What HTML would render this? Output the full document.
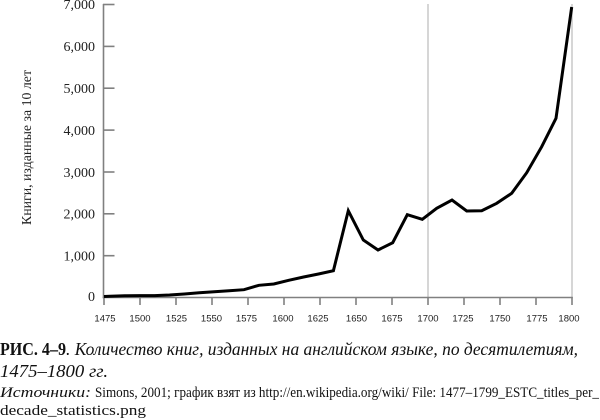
<!DOCTYPE html>
<html><head><meta charset="utf-8"><style>
html,body{margin:0;padding:0;background:#fff;}
svg{display:block;}
</style></head><body>
<svg width="600" height="420" viewBox="0 0 600 420" xmlns="http://www.w3.org/2000/svg">
<rect width="600" height="420" fill="#fff"/>
<!-- light gray verticals -->
<line x1="428" y1="4" x2="428" y2="297" stroke="#c8c8c8" stroke-width="1.5"/>
<line x1="572" y1="4" x2="572" y2="297" stroke="#c8c8c8" stroke-width="1.5"/>
<!-- axes -->
<g stroke="#808080" stroke-width="1.6" fill="none">
<line x1="103.5" y1="4" x2="103.5" y2="298.3"/>
<line x1="102.7" y1="297.5" x2="572.8" y2="297.5"/>
<!-- y ticks -->
<line x1="103" y1="4.5" x2="114.5" y2="4.5"/>
<line x1="103" y1="46.4" x2="114.5" y2="46.4"/>
<line x1="103" y1="88.2" x2="114.5" y2="88.2"/>
<line x1="103" y1="130.1" x2="114.5" y2="130.1"/>
<line x1="103" y1="172" x2="114.5" y2="172"/>
<line x1="103" y1="213.8" x2="114.5" y2="213.8"/>
<line x1="103" y1="255.7" x2="114.5" y2="255.7"/>
<!-- x ticks -->
<line x1="104" y1="297" x2="104" y2="305"/>
<line x1="140" y1="297" x2="140" y2="305"/>
<line x1="176" y1="297" x2="176" y2="305"/>
<line x1="212" y1="297" x2="212" y2="305"/>
<line x1="248" y1="297" x2="248" y2="305"/>
<line x1="284" y1="297" x2="284" y2="305"/>
<line x1="320" y1="297" x2="320" y2="305"/>
<line x1="356" y1="297" x2="356" y2="305"/>
<line x1="392" y1="297" x2="392" y2="305"/>
<line x1="428" y1="297" x2="428" y2="305"/>
<line x1="464" y1="297" x2="464" y2="305"/>
<line x1="500" y1="297" x2="500" y2="305"/>
<line x1="536" y1="297" x2="536" y2="305"/>
<line x1="572" y1="297" x2="572" y2="305"/>
</g>
<!-- y tick labels -->
<g font-family="Liberation Serif, serif" font-size="14" fill="#222" text-anchor="end">
<text x="95" y="9">7,000</text>
<text x="95" y="51">6,000</text>
<text x="95" y="93">5,000</text>
<text x="95" y="135">4,000</text>
<text x="95" y="177">3,000</text>
<text x="95" y="218.5">2,000</text>
<text x="95" y="260.5">1,000</text>
<text x="95" y="301">0</text>
</g>
<text transform="translate(31,147.5) rotate(-90)" font-family="Liberation Serif, serif" font-size="14" fill="#222" text-anchor="middle" textLength="155" lengthAdjust="spacingAndGlyphs">Книги, изданные за 10 лет</text>
<!-- x tick labels -->
<g font-family="Liberation Sans, sans-serif" font-size="9.5" fill="#222" text-anchor="middle">
<text x="105" y="321.5">1475</text>
<text x="140" y="321.5">1500</text>
<text x="176.5" y="321.5">1525</text>
<text x="211.5" y="321.5">1550</text>
<text x="246.5" y="321.5">1575</text>
<text x="283" y="321.5">1600</text>
<text x="318" y="321.5">1625</text>
<text x="356.5" y="321.5">1650</text>
<text x="392" y="321.5">1675</text>
<text x="428" y="321.5">1700</text>
<text x="463" y="321.5">1725</text>
<text x="500" y="321.5">1750</text>
<text x="537" y="321.5">1775</text>
<text x="569" y="321.5">1800</text>
</g>
<!-- data line -->
<polyline fill="none" stroke="#000" stroke-width="3" stroke-linejoin="miter" stroke-miterlimit="4"
points="104,296.5 109.9,296.2 124.8,295.8 139.7,295.6 154.6,295.6 169.5,295 184.4,294 199.3,292.8 214.2,291.8 229.1,290.8 244,289.7 258.9,285.3 273.8,284 288.7,280.3 303.6,277 318.5,274 333.4,270.7 348.3,210.7 363.3,240 378,250 392.7,242.7 407.3,214.7 422.3,219.3 436.7,208.3 452,200 466.7,211 481.7,210.7 496.7,203.3 511.7,193.3 526.7,172.7 541.7,146.7 556,118.3 571.7,7"/>
<!-- caption -->
<text x="0" y="355" font-family="Liberation Serif, serif" font-size="18" font-weight="bold" fill="#111" textLength="66" lengthAdjust="spacingAndGlyphs">РИС. 4–9</text>
<text x="66" y="355" font-family="Liberation Serif, serif" font-size="18" font-style="italic" fill="#111" textLength="512" lengthAdjust="spacingAndGlyphs">. Количество книг, изданных на английском языке, по десятилетиям,</text>
<text x="0" y="377" font-family="Liberation Serif, serif" font-size="18" font-style="italic" fill="#111" textLength="108" lengthAdjust="spacingAndGlyphs">1475–1800 гг.</text>
<text x="0" y="397" font-family="Liberation Serif, serif" font-size="15" font-style="italic" fill="#111" textLength="91" lengthAdjust="spacingAndGlyphs">Источники:</text>
<text x="95" y="397" font-family="Liberation Serif, serif" font-size="15" fill="#111" textLength="504" lengthAdjust="spacingAndGlyphs">Simons, 2001; график взят из http://en.wikipedia.org/wiki/ File: 1477–1799_ESTC_titles_per_</text>
<text x="0" y="415" font-family="Liberation Serif, serif" font-size="15" fill="#111" textLength="146" lengthAdjust="spacingAndGlyphs">decade_statistics.png</text>
</svg>
</body></html>
